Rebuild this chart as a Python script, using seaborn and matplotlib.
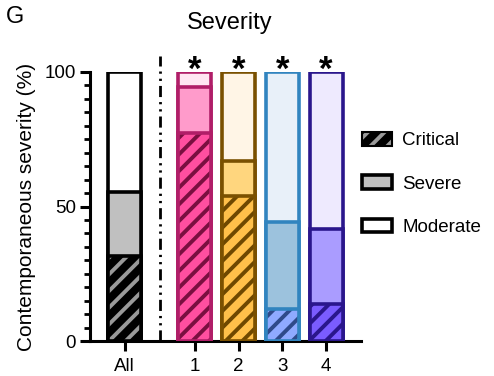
import matplotlib
matplotlib.use("Agg")
import matplotlib.pyplot as plt
import seaborn as sns
import pandas as pd
import numpy as np
from matplotlib.patches import Patch

# ---------------- data ----------------
groups = ["All", "1", "2", "3", "4"]
positions = [0.0, 1.6, 2.6, 3.6, 4.6]
critical = [31.5, 77.3, 54.0, 12.0, 13.7]
severe = [24.0, 17.1, 13.0, 32.4, 27.9]
moderate = [100 - c - s for c, s in zip(critical, severe)]
significant = [False, True, True, True, True]
legend_labels = ["Critical", "Severe", "Moderate"]

edge_colors = ["#000000", "#B01E68", "#7A5000", "#3184BF", "#2A168C"]
critical_colors = ["#000000", "#FF4FA0", "#FFC04A", "#8FAAFF", "#7A5CFF"]
hatch_colors = ["#9A9A9A", "#7A0F40", "#6E4800", "#2F4A8A", "#2A168C"]
severe_colors = ["#C0C0C0", "#FF9BCB", "#FFD67E", "#9CC2DD", "#AA9CFF"]
moderate_colors = ["#FFFFFF", "#FFE6F2", "#FFF5E6", "#E8F0F9", "#EEEAFE"]

sns.set_theme(style="ticks")
plt.rcParams["font.family"] = ["Liberation Sans", "DejaVu Sans"]
plt.rcParams["hatch.linewidth"] = 2.8
for k in ["text.color", "axes.labelcolor", "xtick.color", "ytick.color",
          "xtick.labelcolor", "ytick.labelcolor"]:
    plt.rcParams[k] = "black"

df = pd.DataFrame({
    "x": positions,
    "group": groups,
    "critical": critical,
    "sev_top": [c + s for c, s in zip(critical, severe)],
    "total": [c + s + m for c, s, m in zip(critical, severe, moderate)],
})

fig = plt.figure(figsize=(4.94, 3.76), dpi=100)
ax = fig.add_axes([90 / 494, 35 / 376, (361 - 90) / 494, (341 - 72) / 376])

BAR_W = 0.75
EDGE_LW = 2.6


def layer(col, style_fn):
    n0 = len(ax.patches)
    sns.barplot(data=df, x="x", y=col, native_scale=True, width=BAR_W,
                color="white", ax=ax, errorbar=None, zorder=3)
    for p in ax.patches[n0:]:
        cx = p.get_x() + p.get_width() / 2
        i = int(np.argmin([abs(cx - q) for q in positions]))
        style_fn(p, i)


def st_total(p, i):
    p.set_facecolor(moderate_colors[i]); p.set_edgecolor(edge_colors[i])
    p.set_linewidth(EDGE_LW); p.set_zorder(3)


def st_sev(p, i):
    p.set_facecolor(severe_colors[i]); p.set_edgecolor(edge_colors[i])
    p.set_linewidth(EDGE_LW); p.set_zorder(4)


def st_crit_fill(p, i):
    p.set_facecolor(critical_colors[i]); p.set_edgecolor(hatch_colors[i])
    p.set_linewidth(0); p.set_hatch("//"); p.set_zorder(5)


def st_crit_edge(p, i):
    p.set_facecolor("none"); p.set_edgecolor(edge_colors[i])
    p.set_linewidth(EDGE_LW); p.set_zorder(6)


layer("total", st_total)
layer("sev_top", st_sev)
layer("critical", st_crit_fill)
layer("critical", st_crit_edge)

# axes styling
ax.set_xlim(positions[0] - 35 / 44, positions[-1] + 35 / 44)
ax.set_ylim(0, 100)
ax.set_yticks([0, 50, 100])
ax.set_yticks(np.arange(0, 101, 5), minor=True)
ax.set_xticks(positions, groups)
ax.set_xlabel("")
ax.set_ylabel("Contemporaneous severity (%)", fontsize=15, labelpad=6)
for s in ["top", "right"]:
    ax.spines[s].set_visible(False)
for s in ["left", "bottom"]:
    ax.spines[s].set_linewidth(2.2)
    ax.spines[s].set_color("black")
ax.tick_params(axis="both", which="major", labelsize=13.5, width=2.2,
               length=7, color="black", labelcolor="black", pad=3)
ax.tick_params(axis="x", which="major", pad=5)
ax.tick_params(axis="y", which="minor", width=2.0, length=4, color="black")
ax.tick_params(axis="x", which="minor", bottom=False)
ax.set_facecolor("white")

# separator line
ax.axvline(0.81, ymin=0, ymax=1.06, color="black", lw=2.0, clip_on=False,
           linestyle=(0, (4, 1.8, 0.8, 1.8, 0.8, 1.8)), zorder=2)

# significance stars
for x, sig in zip(positions, significant):
    if sig:
        ax.text(x, 94.6, "*", ha="center", va="bottom", fontsize=25,
                fontweight="bold", color="black", clip_on=False, zorder=10)

# legend
handles = [
    Patch(facecolor="black", edgecolor="#9A9A9A", hatch="//", linewidth=0),
    Patch(facecolor="#C0C0C0", edgecolor="black", linewidth=2.6),
    Patch(facecolor="white", edgecolor="black", linewidth=2.6),
]
leg = ax.legend(handles, legend_labels, loc="upper left",
                bbox_to_anchor=(362 / 494, 1 - 132 / 376),
                bbox_transform=fig.transFigure, frameon=False,
                fontsize=13.5, handlelength=1.6, handleheight=0.75,
                labelspacing=1.38, handletextpad=0.55, borderaxespad=0,
                borderpad=0)
for t in leg.get_texts():
    t.set_color("black")
lp = leg.get_patches()
lp[0].set_edgecolor("black")
lp[0].set_linewidth(1.5)
lp[0]._hatch_color = matplotlib.colors.to_rgba("#9A9A9A")

fig.text(230 / 494, 1 - 23 / 376, "Severity", ha="center", va="center",
         fontsize=17, color="black")
fig.text(6 / 494, 1 - 17 / 376, "G", ha="left", va="center", fontsize=17,
         color="black")

fig.savefig("out.png", dpi=100, facecolor="white")
